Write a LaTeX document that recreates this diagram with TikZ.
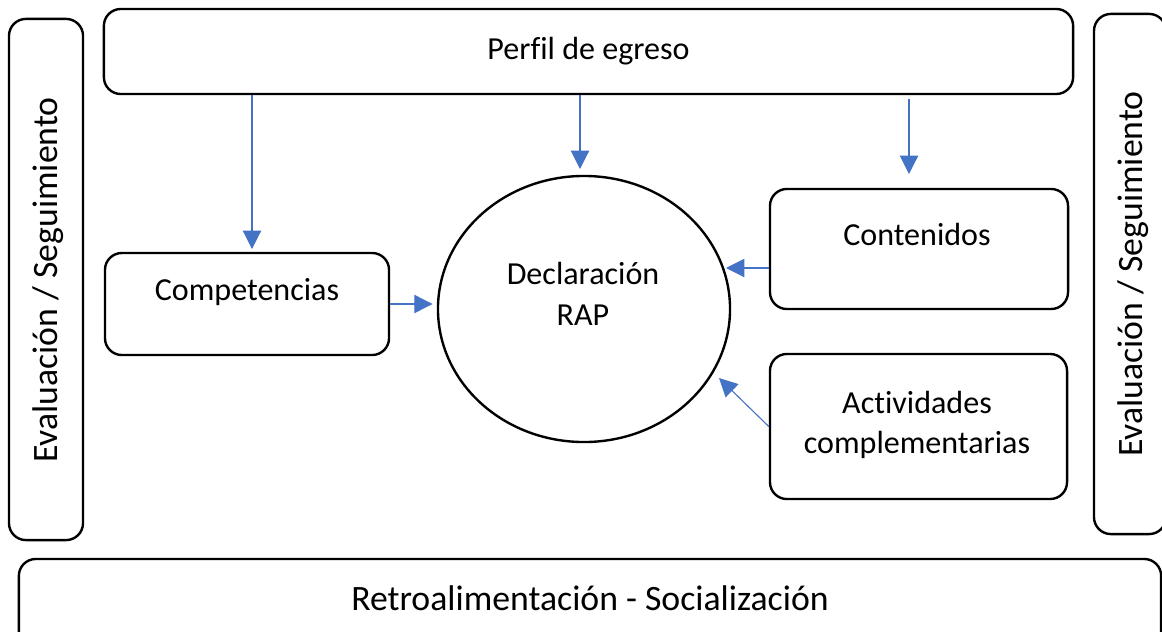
\documentclass[tikz,border=0pt]{standalone}
\usepackage{fontspec}
\setmainfont{Carlito}[Ligatures=NoCommon]
\usetikzlibrary{shapes.geometric,arrows.meta}
\definecolor{linkblue}{RGB}{68,114,196}
\newcommand{\boxfont}{\fontsize{22.8}{29}\selectfont}
\newcommand{\sidefont}{\fontsize{25.4}{30}\selectfont}
\tikzset{
	box/.style={draw,line width=1.7pt,rounded corners=12pt,inner sep=0pt},
	label text/.style={font=\boxfont,align=center,inner sep=0pt},
	side text/.style={font=\sidefont,inner sep=0pt},
	link/.style={linkblue,line width=0.8pt,-{Triangle[length=13pt,width=13pt]}}
}
\begin{document}
\begin{tikzpicture}[x=0.025cm,y=-0.025cm]
		\useasboundingbox (0,0) rectangle (1162,631);

		\node[box,minimum width=1.85cm,minimum height=13.025cm] (evalL) at (46,279.5) {};
		\node[side text,rotate=90] (evalLtxt) at (48,280) {Evaluación / Seguimiento};
		\node[box,minimum width=1.8cm,minimum height=13cm] (evalR) at (1130,274) {};
		\node[side text,rotate=90] (evalRtxt) at (1133,274) {Evaluación / Seguimiento};

		\node[box,minimum width=24.225cm,minimum height=2.125cm,font=\boxfont] (perfil) at (588.5,51.5) {Perfil de egreso};

		\node[box,minimum width=7.1cm,minimum height=2.55cm] (compet) at (247,304) {};
		\node[label text] (compettxt) at (247,292) {Competencias};

		\node[draw,ellipse,line width=1.7pt,inner sep=0pt,minimum width=7.3cm,minimum height=6.65cm] (rap) at (584,309) {};
		\node[label text] (raptxt) at (583,294) {Declaración\\RAP};

		\node[box,minimum width=7.45cm,minimum height=3cm] (cont) at (919,249) {};
		\node[label text] (conttxt) at (917,234) {Contenidos};

		\node[box,minimum width=7.425cm,minimum height=3.625cm] (activ) at (918.5,426.5) {};
		\node[label text] (activtxt) at (917,425) {Actividades\\complementarias};

		\node[box,minimum width=28.55cm,minimum height=2.275cm] (retro) at (590,604.5) {};
		\node[side text] (retrotxt) at (590,598) {Retroalimentación - Socialización};

		\coordinate (tipA) at (252,249);
		\coordinate (tipB) at (580,169);
		\coordinate (startC) at (909,99);
		\coordinate (tipC) at (909,174);
		\coordinate (tipD) at (726,268);
		\coordinate (tipE) at (719,378);

		\draw[link] (perfil.south -| tipA) -- (tipA);
		\draw[link] (perfil.south -| tipB) -- (tipB);
		\draw[link] (startC) -- (tipC);
		\draw[link] (compet.east) -- ([xshift=-3pt]compet.east -| rap.west);
		\draw[link] (cont.west |- tipD) -- (tipD);
		\draw[link] (activ.west) -- (tipE);
	\end{tikzpicture}
\end{document}
